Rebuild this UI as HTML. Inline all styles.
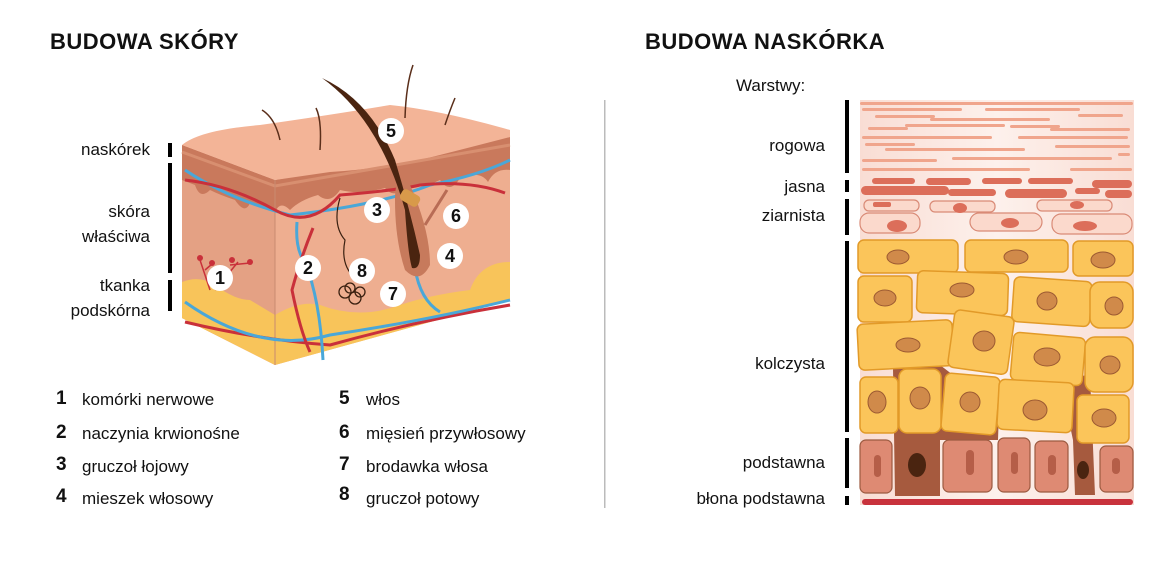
<!DOCTYPE html>
<html><head><meta charset="utf-8"><style>
html,body{margin:0;padding:0;background:#fff;}
body{width:1170px;height:575px;position:relative;overflow:hidden;font-family:"Liberation Sans",sans-serif;color:#111;}
.t{position:absolute;font-size:17px;white-space:nowrap;}
.h{position:absolute;font-size:22px;font-weight:bold;letter-spacing:0.5px;}
.r{text-align:right;}
.n{position:absolute;font-size:19px;font-weight:bold;}
</style></head><body>
<div class="h" style="left:50px;top:29px">BUDOWA SKÓRY</div>
<div class="h" style="left:645px;top:29px">BUDOWA NASKÓRKA</div>

<div class="t r" style="right:1020px;top:140px">naskórek</div>
<div class="t r" style="right:1020px;top:199px;line-height:25px">skóra<br>właściwa</div>
<div class="t r" style="right:1020px;top:273px;line-height:25px">tkanka<br>podskórna</div>

<div class="n" style="left:56px;top:388px">1</div><div class="t" style="left:82px;top:390px">komórki nerwowe</div>
<div class="n" style="left:56px;top:422px">2</div><div class="t" style="left:82px;top:424px">naczynia krwionośne</div>
<div class="n" style="left:56px;top:454px">3</div><div class="t" style="left:82px;top:457px">gruczoł łojowy</div>
<div class="n" style="left:56px;top:486px">4</div><div class="t" style="left:82px;top:489px">mieszek włosowy</div>
<div class="n" style="left:339px;top:388px">5</div><div class="t" style="left:366px;top:390px">włos</div>
<div class="n" style="left:339px;top:422px">6</div><div class="t" style="left:366px;top:424px">mięsień przywłosowy</div>
<div class="n" style="left:339px;top:454px">7</div><div class="t" style="left:366px;top:457px">brodawka włosa</div>
<div class="n" style="left:339px;top:484px">8</div><div class="t" style="left:366px;top:489px">gruczoł potowy</div>

<div class="t" style="left:736px;top:76px">Warstwy:</div>
<div class="t r" style="right:345px;top:136px">rogowa</div>
<div class="t r" style="right:345px;top:177px">jasna</div>
<div class="t r" style="right:345px;top:206px">ziarnista</div>
<div class="t r" style="right:345px;top:354px">kolczysta</div>
<div class="t r" style="right:345px;top:453px">podstawna</div>
<div class="t r" style="right:345px;top:489px">błona podstawna</div>

<svg width="1170" height="575" style="position:absolute;left:0;top:0" xmlns="http://www.w3.org/2000/svg">
<defs>
<linearGradient id="bg" x1="0" y1="0" x2="1" y2="0"><stop offset="0" stop-color="#f9ddd4"/><stop offset="0.5" stop-color="#fdf1ec"/><stop offset="1" stop-color="#f9ddd4"/></linearGradient>
</defs>
<rect x="168" y="143" width="4" height="14" fill="#000"/>
<rect x="168" y="163" width="4" height="110" fill="#000"/>
<rect x="168" y="280" width="4" height="31" fill="#000"/>
<rect x="604" y="100" width="1.5" height="408" fill="#bbb"/>
<rect x="845" y="100" width="4" height="73" fill="#000"/>
<rect x="845" y="180" width="4" height="12" fill="#000"/>
<rect x="845" y="199" width="4" height="36" fill="#000"/>
<rect x="845" y="241" width="4" height="191" fill="#000"/>
<rect x="845" y="438" width="4" height="50" fill="#000"/>
<rect x="845" y="496" width="4" height="9" fill="#000"/>

<!-- skin block -->
<path d="M182,145 L275,180 L510,137 L510,300 L275,365 L182,318 Z" fill="#eeae90"/>
<path d="M182,145 L182,318 L275,365 L275,180 Z" fill="#e4a184"/>
<path d="M182,282 Q200,275 215,285 Q235,300 250,300 L275,315 Q300,300 320,305 Q360,320 400,305 Q430,295 470,290 Q490,270 510,265 L510,300 L275,365 L182,318 Z" fill="#f8c45a"/>
<path d="M470,290 Q480,262 510,262 L510,280 Q490,300 470,290Z" fill="#f8c45a"/>
<path d="M182,145 L275,180 L510,137 L510,170 Q495,168 488,182 Q480,170 460,178 Q450,195 440,180 Q420,190 405,185 Q395,200 385,188 Q360,195 340,190 Q330,205 318,195 Q300,200 290,210 Q280,200 275,212 L250,203 Q245,215 235,200 Q220,195 210,190 Q200,200 195,185 L182,180 Z" fill="#c9795c"/>
<path d="M182,145 Q200,130 260,125 Q330,115 390,105 Q440,110 510,130 L510,137 Q460,150 420,160 Q370,170 330,172 L275,180 Z" fill="#f3b497"/>
<path d="M182,152 L275,186 L510,145" stroke="#d88f70" stroke-width="3" fill="none"/>
<line x1="275" y1="180" x2="275" y2="365" stroke="#c98a70" stroke-width="1"/>
<path d="M185,170 Q230,200 290,215 Q380,205 430,185 Q480,175 510,160" stroke="#4aa7d8" stroke-width="3" fill="none"/>
<path d="M185,180 Q230,185 275,210 Q310,230 340,195 Q400,190 420,185 Q470,180 505,193" stroke="#c9303a" stroke-width="3" fill="none"/>
<path d="M185,322 Q260,340 330,345 Q420,320 510,305" stroke="#c9303a" stroke-width="3" fill="none"/>
<path d="M185,302 Q260,355 330,335 Q430,320 510,300" stroke="#4aa7d8" stroke-width="3" fill="none"/>
<path d="M297,222 Q295,250 305,262 Q320,300 323,360" stroke="#4aa7d8" stroke-width="3" fill="none"/>
<path d="M313,228 Q300,260 292,290 Q300,330 310,352" stroke="#c9303a" stroke-width="3" fill="none"/>
<path d="M415,268 Q420,300 440,312" stroke="#4aa7d8" stroke-width="3" fill="none"/>
<path d="M395,200 Q395,170 410,185 Q430,230 430,265 Q420,285 405,270 Q395,240 395,200Z" fill="#c77a5c"/>
<path d="M322,78 Q380,120 405,210 Q408,255 412,268 Q420,270 420,255 Q410,210 395,160 Q370,100 322,78Z" fill="#4a2410"/>
<rect x="400" y="192" width="20" height="12" rx="4" fill="#d89a4a" transform="rotate(30 410 198)"/>
<line x1="425" y1="225" x2="447" y2="190" stroke="#b86c55" stroke-width="3"/>
<path d="M262,110 Q275,118 280,140" stroke="#5a2e1a" stroke-width="1.5" fill="none"/>
<path d="M316,108 Q322,120 320,150" stroke="#5a2e1a" stroke-width="1.5" fill="none"/>
<path d="M413,65 Q406,85 405,118" stroke="#5a2e1a" stroke-width="1.5" fill="none"/>
<path d="M455,98 Q450,110 445,125" stroke="#5a2e1a" stroke-width="1.5" fill="none"/>
<path d="M340,198 Q332,225 345,240 Q340,265 355,278" stroke="#3a2010" stroke-width="1.2" fill="none"/>
<g fill="none" stroke="#3a2010" stroke-width="1.3"><circle cx="345" cy="292" r="6"/><circle cx="355" cy="298" r="6"/><circle cx="350" cy="288" r="5"/><circle cx="360" cy="292" r="5"/></g>
<g stroke="#c9303a" stroke-width="1.5"><line x1="210" y1="290" x2="200" y2="260"/><line x1="215" y1="290" x2="238" y2="262"/><line x1="205" y1="270" x2="212" y2="264"/><line x1="230" y1="265" x2="250" y2="263"/></g>
<g fill="#c9303a"><circle cx="200" cy="258" r="3"/><circle cx="212" cy="263" r="3"/><circle cx="232" cy="260" r="3"/><circle cx="250" cy="262" r="3"/></g>
<g fill="#fff"><circle cx="220" cy="278" r="13"/><circle cx="308" cy="268" r="13"/><circle cx="377" cy="210" r="13"/><circle cx="450" cy="256" r="13"/><circle cx="391" cy="131" r="13"/><circle cx="456" cy="216" r="13"/><circle cx="393" cy="294" r="13"/><circle cx="362" cy="271" r="13"/></g>
<g font-family="Liberation Sans" font-weight="bold" font-size="18" text-anchor="middle" fill="#111">
<text x="220" y="284">1</text><text x="308" y="274">2</text><text x="377" y="216">3</text><text x="450" y="262">4</text><text x="391" y="137">5</text><text x="456" y="222">6</text><text x="393" y="300">7</text><text x="362" y="277">8</text></g>

<rect x="860" y="100" width="274" height="405" fill="url(#bg)"/>
<g fill="#f0a58c">
<rect x="860" y="102" width="273" height="3" rx="1.5"/>
<rect x="862" y="108" width="100" height="3" rx="1.5"/><rect x="985" y="108" width="95" height="3" rx="1.5"/>
<rect x="875" y="115" width="60" height="3" rx="1.5"/><rect x="930" y="118" width="120" height="3" rx="1.5"/><rect x="1078" y="114" width="45" height="3" rx="1.5"/>
<rect x="868" y="127" width="40" height="3" rx="1.5"/><rect x="905" y="124" width="100" height="3" rx="1.5"/><rect x="1010" y="125" width="50" height="3" rx="1.5"/><rect x="1050" y="128" width="80" height="3" rx="1.5"/>
<rect x="862" y="136" width="130" height="3" rx="1.5"/><rect x="1018" y="136" width="110" height="3" rx="1.5"/>
<rect x="865" y="143" width="50" height="3" rx="1.5"/><rect x="885" y="148" width="140" height="3" rx="1.5"/><rect x="1055" y="145" width="75" height="3" rx="1.5"/>
<rect x="862" y="159" width="75" height="3" rx="1.5"/><rect x="952" y="157" width="160" height="3" rx="1.5"/><rect x="1118" y="153" width="12" height="3" rx="1.5"/>
<rect x="862" y="168" width="125" height="3" rx="1.5"/><rect x="965" y="168" width="65" height="3" rx="1.5"/><rect x="1070" y="168" width="62" height="3" rx="1.5"/>
</g>
<g fill="#dc6e5a">
<rect x="872" y="178" width="43" height="6" rx="3"/><rect x="926" y="178" width="45" height="7" rx="3.5"/><rect x="982" y="178" width="40" height="6" rx="3"/><rect x="1028" y="178" width="45" height="6" rx="3"/><rect x="1092" y="180" width="40" height="8" rx="4"/>
<rect x="861" y="186" width="88" height="9" rx="4.5"/><rect x="948" y="189" width="48" height="7" rx="3.5"/><rect x="1005" y="189" width="62" height="9" rx="4.5"/><rect x="1075" y="188" width="25" height="6" rx="3"/><rect x="1105" y="190" width="27" height="8" rx="4"/>
</g>
<g fill="#fbd9cc" stroke="#d98a76" stroke-width="1.2">
<rect x="864" y="200" width="55" height="11" rx="5"/><rect x="930" y="201" width="65" height="11" rx="5"/><rect x="1037" y="200" width="75" height="11" rx="5"/>
<rect x="860" y="213" width="60" height="20" rx="9"/><rect x="970" y="213" width="72" height="18" rx="9"/><rect x="1052" y="214" width="80" height="20" rx="9"/>
</g>
<g fill="#dc6e5a"><ellipse cx="897" cy="226" rx="10" ry="6"/><ellipse cx="1010" cy="223" rx="9" ry="5"/><ellipse cx="1085" cy="226" rx="12" ry="5"/><ellipse cx="960" cy="208" rx="7" ry="5"/><ellipse cx="1077" cy="205" rx="7" ry="4"/><rect x="873" y="202" width="18" height="5" rx="2"/></g>
<path d="M893,368 L940,365 L953,375 L1000,380 L998,440 L940,440 L940,496 L895,496 Z" fill="#a65a3e"/>
<path d="M1060,378 L1090,375 L1095,495 L1075,495 L1073,440 Z" fill="#a65a3e"/>
<g fill="#fbc55a" stroke="#e29a28" stroke-width="1.5">
<rect x="858" y="240" width="100" height="33" rx="6"/><rect x="965" y="240" width="103" height="32" rx="6"/><rect x="1073" y="241" width="60" height="35" rx="6"/>
<rect x="858" y="276" width="54" height="46" rx="6"/><rect x="917" y="272" width="91" height="42" rx="6" transform="rotate(2 960 293)"/><rect x="1013" y="279" width="78" height="45" rx="6" transform="rotate(4 1050 300)"/><rect x="1090" y="282" width="43" height="46" rx="10"/>
<rect x="858" y="322" width="95" height="46" rx="6" transform="rotate(-3 905 345)"/><rect x="951" y="313" width="60" height="58" rx="6" transform="rotate(8 980 342)"/><rect x="1012" y="335" width="72" height="48" rx="6" transform="rotate(5 1048 358)"/><rect x="1085" y="337" width="48" height="55" rx="10"/>
<rect x="860" y="377" width="38" height="56" rx="6"/><rect x="899" y="369" width="42" height="64" rx="8"/><rect x="943" y="375" width="55" height="58" rx="6" transform="rotate(5 970 404)"/><rect x="998" y="381" width="75" height="50" rx="6" transform="rotate(3 1035 406)"/><rect x="1077" y="395" width="52" height="48" rx="6"/>
</g>
<g fill="#d08a4a" stroke="#9c5a32" stroke-width="1">
<ellipse cx="898" cy="257" rx="11" ry="7"/><ellipse cx="1016" cy="257" rx="12" ry="7"/><ellipse cx="1103" cy="260" rx="12" ry="8"/>
<ellipse cx="885" cy="298" rx="11" ry="8"/><ellipse cx="962" cy="290" rx="12" ry="7"/><ellipse cx="1047" cy="301" rx="10" ry="9"/><ellipse cx="1114" cy="306" rx="9" ry="9"/>
<ellipse cx="908" cy="345" rx="12" ry="7"/><ellipse cx="984" cy="341" rx="11" ry="10"/><ellipse cx="1047" cy="357" rx="13" ry="9"/><ellipse cx="1110" cy="365" rx="10" ry="9"/>
<ellipse cx="877" cy="402" rx="9" ry="11"/><ellipse cx="920" cy="398" rx="10" ry="11"/><ellipse cx="970" cy="402" rx="10" ry="10"/><ellipse cx="1035" cy="410" rx="12" ry="10"/><ellipse cx="1104" cy="418" rx="12" ry="9"/>
</g>
<g fill="#de8a73" stroke="#9c5a40" stroke-width="1.2">
<rect x="860" y="440" width="32" height="53" rx="6"/><rect x="943" y="440" width="49" height="52" rx="6"/><rect x="998" y="438" width="32" height="54" rx="6"/><rect x="1035" y="441" width="33" height="51" rx="6"/><rect x="1100" y="446" width="33" height="46" rx="6"/>
</g>
<g fill="#b55e48"><rect x="874" y="455" width="7" height="22" rx="3.5"/><rect x="966" y="450" width="8" height="25" rx="4"/><rect x="1011" y="452" width="7" height="22" rx="3.5"/><rect x="1048" y="455" width="8" height="20" rx="4"/><rect x="1112" y="458" width="8" height="16" rx="4"/></g>
<ellipse cx="917" cy="465" rx="9" ry="12" fill="#4a2410"/>
<ellipse cx="1083" cy="470" rx="6" ry="9" fill="#4a2410"/>
<rect x="862" y="499" width="271" height="6" rx="3" fill="#c8323c"/>
</svg>
</body></html>
